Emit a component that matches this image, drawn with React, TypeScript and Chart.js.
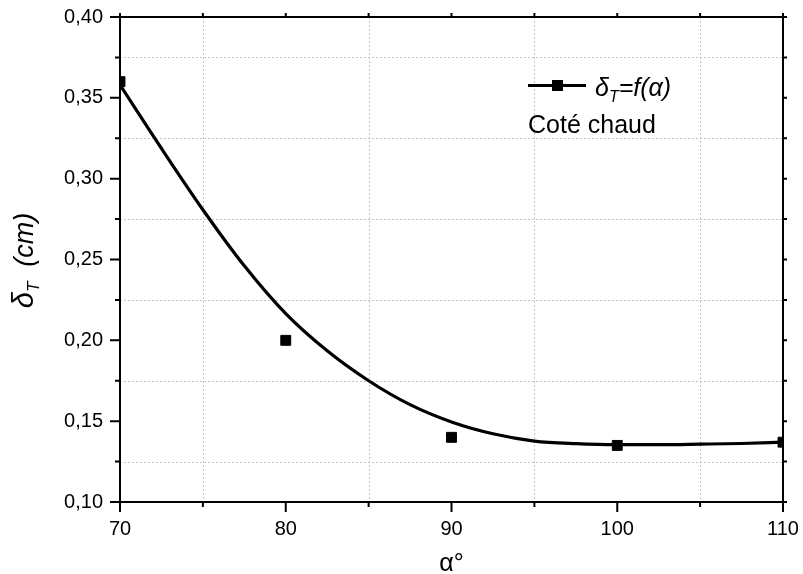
import React, { useEffect, useRef } from "react";
import { Chart, registerables } from "chart.js";

Chart.register(...registerables);

// Measured points
const alphaDeg = [70, 80, 90, 100, 110];
const deltaT = [0.36, 0.2, 0.14, 0.135, 0.137];

// Fitted curve
const fitAlpha = [70, 72.5, 75, 77.5, 80, 82.5, 85, 87.5, 90, 92.5, 95, 97.5, 100, 102.5, 105, 107.5, 110];
const fitDelta = [0.358, 0.3187, 0.2808, 0.2461, 0.2165, 0.1935, 0.175, 0.1602, 0.1495, 0.1422, 0.1377, 0.1361, 0.1355, 0.1355, 0.1358, 0.1362, 0.137];

// Axis ticks
const xMajor = [70, 80, 90, 100, 110];
const xMinor = [75, 85, 95, 105];
const yMajor = [0.1, 0.15, 0.2, 0.25, 0.3, 0.35, 0.4];
const yMinor = [0.125, 0.175, 0.225, 0.275, 0.325, 0.375];

const legendLabel = ["δ", "T", "=f(α)"];
const legendNote = "Coté chaud";
const yTitle = ["δ", "T", "  (cm)"];
const xTitle = "α°";

const FONT = "Arial, 'Liberation Sans', Helvetica, sans-serif";

type Part = { text: string; font: string; dy: number };

function drawParts(ctx: CanvasRenderingContext2D, parts: Part[], x: number, y: number) {
  let cx = x;
  for (const p of parts) {
    ctx.font = p.font;
    ctx.fillText(p.text, cx, y + p.dy);
    cx += ctx.measureText(p.text).width;
  }
}
function partsWidth(ctx: CanvasRenderingContext2D, parts: Part[]) {
  let w = 0;
  for (const p of parts) {
    ctx.font = p.font;
    w += ctx.measureText(p.text).width;
  }
  return w;
}

export default function App() {
  const ref = useRef<HTMLCanvasElement>(null);

  useEffect(() => {
    document.body.style.margin = "0";
    const canvas = ref.current;
    if (!canvas) return;

    const decor = {
      id: "decor",
      beforeDatasetsDraw(chart: any) {
        const { ctx, chartArea: a, scales } = chart;
        const xs = scales.x;
        const ys = scales.y;
        ctx.save();
        ctx.strokeStyle = "#c4c4c4";
        ctx.lineWidth = 1;
        ctx.setLineDash([2, 2]);
        for (const v of xMinor) {
          const px = Math.round(xs.getPixelForValue(v)) + 0.5;
          ctx.beginPath();
          ctx.moveTo(px, a.top);
          ctx.lineTo(px, a.bottom);
          ctx.stroke();
        }
        for (const v of yMinor) {
          const py = Math.round(ys.getPixelForValue(v)) + 0.5;
          ctx.beginPath();
          ctx.moveTo(a.left, py);
          ctx.lineTo(a.right, py);
          ctx.stroke();
        }
        ctx.restore();
      },
      afterDatasetsDraw(chart: any) {
        const { ctx, chartArea: a, scales } = chart;
        const xs = scales.x;
        const ys = scales.y;
        ctx.save();
        ctx.strokeStyle = "#000";
        ctx.lineWidth = 2;
        ctx.setLineDash([]);
        ctx.strokeRect(a.left, a.top, a.right - a.left, a.bottom - a.top);
        ctx.beginPath();
        for (const v of yMajor) {
          const py = ys.getPixelForValue(v);
          ctx.moveTo(a.left - 10, py);
          ctx.lineTo(a.left, py);
          ctx.moveTo(a.right, py);
          ctx.lineTo(a.right + 4, py);
        }
        for (const v of yMinor) {
          const py = ys.getPixelForValue(v);
          ctx.moveTo(a.left - 5, py);
          ctx.lineTo(a.left, py);
          ctx.moveTo(a.right, py);
          ctx.lineTo(a.right + 4, py);
        }
        for (const v of xMajor) {
          const px = xs.getPixelForValue(v);
          ctx.moveTo(px, a.bottom);
          ctx.lineTo(px, a.bottom + 10);
          ctx.moveTo(px, a.top);
          ctx.lineTo(px, a.top - 4);
        }
        for (const v of xMinor) {
          const px = xs.getPixelForValue(v);
          ctx.moveTo(px, a.bottom);
          ctx.lineTo(px, a.bottom + 5);
          ctx.moveTo(px, a.top);
          ctx.lineTo(px, a.top - 4);
        }
        ctx.stroke();
        ctx.restore();
      },
      afterDraw(chart: any) {
        const { ctx, chartArea: a } = chart;
        ctx.save();
        ctx.fillStyle = "#000";
        ctx.textAlign = "left";
        ctx.textBaseline = "alphabetic";

        // Y title
        const yParts: Part[] = [
          { text: yTitle[0], font: `italic 29px ${FONT}`, dy: 0 },
          { text: yTitle[1], font: `italic 17px ${FONT}`, dy: 6 },
          { text: yTitle[2], font: `italic 27px ${FONT}`, dy: 0 },
        ];
        const cy = (a.top + a.bottom) / 2 + 1;
        ctx.translate(33, cy);
        ctx.rotate(-Math.PI / 2);
        const w = partsWidth(ctx, yParts);
        drawParts(ctx, yParts, -w / 2, 0);
        ctx.setTransform(1, 0, 0, 1, 0, 0);

        // X title
        ctx.font = `25px ${FONT}`;
        ctx.textAlign = "center";
        ctx.fillText(xTitle, (a.left + a.right) / 2, 571);
        ctx.textAlign = "left";

        // Legend
        ctx.strokeStyle = "#000";
        ctx.lineWidth = 3;
        ctx.beginPath();
        ctx.moveTo(528, 85.5);
        ctx.lineTo(586, 85.5);
        ctx.stroke();
        ctx.fillRect(552, 80, 11, 11);
        const lParts: Part[] = [
          { text: legendLabel[0], font: `italic 25px ${FONT}`, dy: 0 },
          { text: legendLabel[1], font: `italic 16px ${FONT}`, dy: 6 },
          { text: legendLabel[2], font: `italic 25px ${FONT}`, dy: 0 },
        ];
        drawParts(ctx, lParts, 595, 96);
        ctx.font = `25px ${FONT}`;
        ctx.fillText(legendNote, 528, 133);
        ctx.restore();
      },
    };

    const chart = new Chart(canvas, {
      type: "line",
      data: {
        datasets: [
          {
            label: "points",
            data: alphaDeg.map((x, i) => ({ x, y: deltaT[i] })),
            showLine: false,
            pointStyle: "rect",
            pointRadius: 7,
            pointBackgroundColor: "#000",
            pointBorderColor: "#000",
            pointBorderWidth: 1,
            clip: 0,
          } as any,
          {
            label: "fit",
            data: fitAlpha.map((x, i) => ({ x, y: fitDelta[i] })),
            borderColor: "#000",
            borderWidth: 3.2,
            pointRadius: 0,
            fill: false,
            cubicInterpolationMode: "monotone",
            clip: 0,
          } as any,
        ],
      },
      options: {
        animation: false,
        responsive: true,
        maintainAspectRatio: false,
        layout: { padding: { top: 17, right: 20, left: 0, bottom: 0 } },
        plugins: { legend: { display: false }, tooltip: { enabled: false } },
        scales: {
          x: {
            type: "linear",
            min: 70,
            max: 110,
            grid: { display: false, drawTicks: false },
            border: { display: false },
            ticks: {
              stepSize: 10,
              padding: 15,
              color: "#000",
              font: { family: FONT, size: 20 },
              maxRotation: 0,
            },
            afterFit(scale: any) {
              scale.height = 72;
              scale.paddingLeft = 0;
              scale.paddingRight = 0;
            },
          },
          y: {
            type: "linear",
            min: 0.1,
            max: 0.4,
            grid: { display: false, drawTicks: false },
            border: { display: false },
            ticks: {
              stepSize: 0.05,
              padding: 17,
              color: "#000",
              font: { family: FONT, size: 20 },
              callback: (v: any) => Number(v).toFixed(2).replace(".", ","),
            },
            afterFit(scale: any) {
              scale.width = 120;
              scale.paddingTop = 0;
              scale.paddingBottom = 0;
            },
          },
        },
      },
      plugins: [decor],
    } as any);

    return () => chart.destroy();
  }, []);

  return (
    <div style={{ width: 803, height: 574, position: "relative" }}>
      <canvas ref={ref} />
    </div>
  );
}
